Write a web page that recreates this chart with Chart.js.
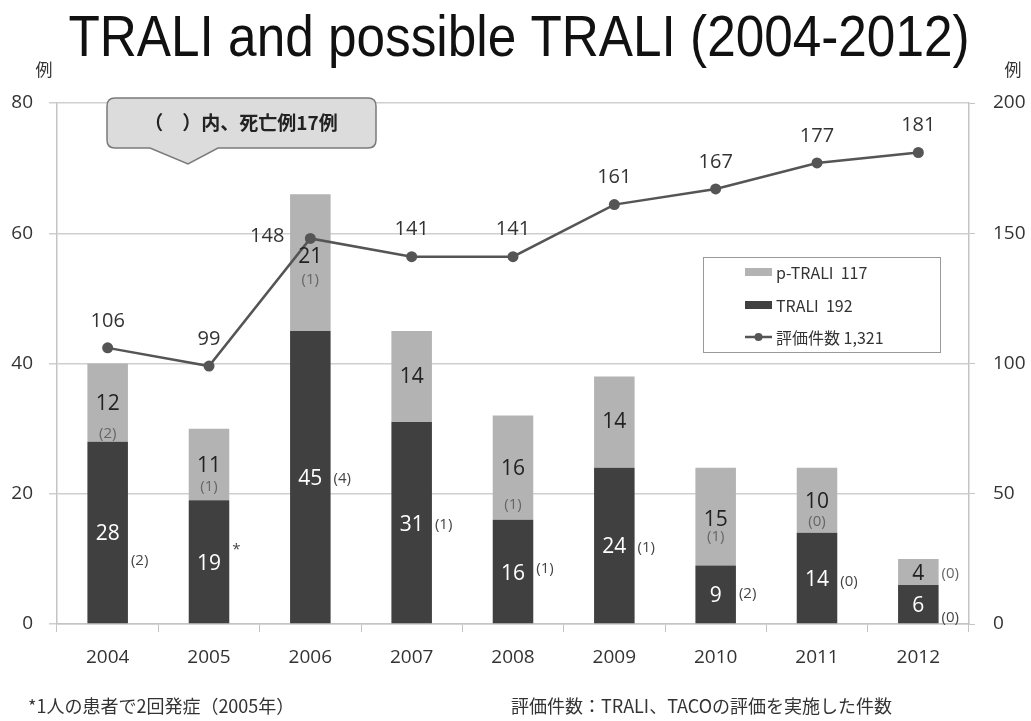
<!DOCTYPE html>
<html>
<head>
<meta charset="utf-8">
<script src="https://cdn.jsdelivr.net/npm/chart.js@4.4.1/dist/chart.umd.min.js"></script>
<style>
  html, body { margin: 0; padding: 0; background: #fff; }
  #wrap { width: 1031px; height: 721px; }
</style>
</head>
<body>
<div id="wrap"><canvas id="myChart" width="1031" height="721"></canvas></div>
<script>
// data
let years = ["2004", "2005", "2006", "2007", "2008", "2009", "2010", "2011", "2012"];
let traliCases = [28, 19, 45, 31, 16, 24, 9, 14, 6];
let pTraliCases = [12, 11, 21, 14, 16, 14, 15, 10, 4];
let evalCounts = [106, 99, 148, 141, 141, 161, 167, 177, 181];
// deaths shown in brackets
let traliDeaths = ["(2)", "*", "(4)", "(1)", "(1)", "(1)", "(2)", "(0)", "(0)"];
let pTraliDeaths = ["(2)", "(1)", "(1)", "", "(1)", "", "(1)", "(0)", "(0)"];
let legendLabels = ["p-TRALI  117", "TRALI  192", "評価件数 1,321"];

let darkGray = "#404040";
let lightGray = "#b3b3b3";
let lineGray = "#555555";
let numFont = "'Open Sans', 'Noto Sans', sans-serif";
let jpFont = "'Noto Sans CJK JP', sans-serif";

// label nudges (px) so the texts sit where they do in the original
let traliDeathDy = [26, -14, 0, 0, -5, 0, -3, 2, 12];
let pNumDy = [1, 2, -6, 0, 1, 0, 3, 2, 2];
let pDeathDy = [31, 22, 17, 0, 37, 0, 20, 21, 2];

let labelPlugin = {
  id: "labels",
  afterDatasetsDraw(chart) {
    let ctx = chart.ctx;
    let metaT = chart.getDatasetMeta(0);
    let metaP = chart.getDatasetMeta(1);
    let metaL = chart.getDatasetMeta(2);
    ctx.save();
    ctx.textBaseline = "middle";

    for (let i = 0; i < years.length; i++) {
      let bt = metaT.data[i];
      let bp = metaP.data[i];
      let half = bt.width / 2;

      // TRALI value, white inside the dark bar
      let cy = (bt.y + bt.base) / 2 + 2;
      ctx.font = "21px " + numFont;
      ctx.fillStyle = "#ffffff";
      ctx.textAlign = "center";
      ctx.fillText(traliCases[i], bt.x, cy);

      // TRALI deaths to the right
      ctx.font = "15px " + numFont;
      ctx.fillStyle = "#444";
      ctx.textAlign = "left";
      ctx.fillText(traliDeaths[i], bt.x + half + 3, cy + traliDeathDy[i]);

      // p-TRALI value in the light segment
      let py = (bp.y + bp.base) / 2;
      let last = i === years.length - 1;
      ctx.font = "21px " + numFont;
      ctx.fillStyle = "#222";
      ctx.textAlign = "center";
      ctx.fillText(pTraliCases[i], bp.x, py + pNumDy[i]);

      if (pTraliDeaths[i] !== "") {
        ctx.font = "15px " + numFont;
        ctx.fillStyle = "#666";
        if (last) {
          ctx.textAlign = "left";
          ctx.fillText(pTraliDeaths[i], bp.x + half + 3, py + pDeathDy[i]);
        } else {
          ctx.textAlign = "center";
          ctx.fillText(pTraliDeaths[i], bp.x, py + pDeathDy[i]);
        }
      }

      // line value labels
      let pt = metaL.data[i];
      ctx.font = "20px " + numFont;
      ctx.fillStyle = "#333";
      if (i === 2) {
        ctx.textAlign = "right";
        ctx.fillText(evalCounts[i], pt.x - 26, pt.y - 2);
      } else {
        ctx.textAlign = "center";
        ctx.fillText(evalCounts[i], pt.x, pt.y - 27);
      }
    }
    ctx.restore();
  },
  afterDraw(chart) {
    let ctx = chart.ctx;
    ctx.save();

    // title, condensed like the original
    ctx.save();
    ctx.translate(519, 56);
    ctx.scale(0.9, 1);
    ctx.fillStyle = "#111";
    ctx.textAlign = "center";
    ctx.textBaseline = "alphabetic";
    ctx.font = "57px 'Liberation Sans', sans-serif";
    ctx.fillText("TRALI and possible TRALI (2004-2012)", 0, 0);
    ctx.restore();

    // unit labels
    ctx.textAlign = "center";
    ctx.font = "17px " + jpFont;
    ctx.fillStyle = "#333";
    ctx.fillText("例", 44, 76);
    ctx.fillText("例", 1013, 76);

    // callout
    let cx0 = 107, cy0 = 98, cw = 269, ch = 50, r = 8;
    ctx.beginPath();
    ctx.moveTo(cx0 + r, cy0);
    ctx.lineTo(cx0 + cw - r, cy0);
    ctx.quadraticCurveTo(cx0 + cw, cy0, cx0 + cw, cy0 + r);
    ctx.lineTo(cx0 + cw, cy0 + ch - r);
    ctx.quadraticCurveTo(cx0 + cw, cy0 + ch, cx0 + cw - r, cy0 + ch);
    ctx.lineTo(218, cy0 + ch);
    ctx.lineTo(188, cy0 + ch + 16);
    ctx.lineTo(150, cy0 + ch);
    ctx.lineTo(cx0 + r, cy0 + ch);
    ctx.quadraticCurveTo(cx0, cy0 + ch, cx0, cy0 + ch - r);
    ctx.lineTo(cx0, cy0 + r);
    ctx.quadraticCurveTo(cx0, cy0, cx0 + r, cy0);
    ctx.closePath();
    ctx.fillStyle = "#dcdcdc";
    ctx.fill();
    ctx.strokeStyle = "#7a7a7a";
    ctx.lineWidth = 1.5;
    ctx.stroke();
    ctx.fillStyle = "#222";
    ctx.font = "bold 19px " + jpFont;
    ctx.textBaseline = "middle";
    ctx.fillText("（　）内、死亡例17例", 241, 123);

    // legend box
    ctx.fillStyle = "#ffffff";
    ctx.fillRect(703, 257, 237, 95);
    ctx.strokeStyle = "#999";
    ctx.lineWidth = 1;
    ctx.strokeRect(703.5, 257.5, 237, 95);
    ctx.textAlign = "left";
    ctx.font = "16px " + jpFont;
    let rows = [272, 305, 337];
    ctx.fillStyle = lightGray;
    ctx.fillRect(745, rows[0] - 4, 27, 8);
    ctx.fillStyle = darkGray;
    ctx.fillRect(745, rows[1] - 4, 27, 8);
    ctx.strokeStyle = lineGray;
    ctx.lineWidth = 2.5;
    ctx.beginPath();
    ctx.moveTo(745, rows[2]);
    ctx.lineTo(772, rows[2]);
    ctx.stroke();
    ctx.fillStyle = lineGray;
    ctx.beginPath();
    ctx.arc(758.5, rows[2], 4, 0, Math.PI * 2);
    ctx.fill();
    ctx.fillStyle = "#333";
    for (let k = 0; k < legendLabels.length; k++) {
      ctx.fillText(legendLabels[k], 776, rows[k] + 1);
    }

    // notes under the chart
    ctx.font = "18px " + jpFont;
    ctx.fillStyle = "#333";
    ctx.fillText("*1人の患者で2回発症（2005年）", 28, 706);
    ctx.fillText("評価件数：TRALI、TACOの評価を実施した件数", 511, 706);
    ctx.restore();
  }
};

new Chart(document.getElementById("myChart"), {
  type: "bar",
  data: {
    labels: years,
    datasets: [
      {
        label: "TRALI",
        data: traliCases,
        backgroundColor: darkGray,
        yAxisID: "y",
        order: 1
      },
      {
        label: "p-TRALI",
        data: pTraliCases,
        backgroundColor: lightGray,
        yAxisID: "y",
        order: 1
      },
      {
        type: "line",
        label: "評価件数",
        data: evalCounts,
        borderColor: lineGray,
        backgroundColor: lineGray,
        borderWidth: 2.5,
        pointRadius: 5.5,
        pointBackgroundColor: lineGray,
        pointBorderWidth: 0,
        tension: 0,
        yAxisID: "y2",
        order: 0
      }
    ]
  },
  options: {
    responsive: false,
    animation: false,
    categoryPercentage: 1,
    barPercentage: 0.4,
    layout: { padding: { top: 103, left: 0, right: 0, bottom: 0 } },
    plugins: {
      legend: { display: false },
      title: { display: false },
      tooltip: { enabled: false }
    },
    scales: {
      x: {
        stacked: true,
        offset: true,
        grid: { display: true, drawOnChartArea: false, offset: true, tickLength: 8, color: "#c4c4c4" },
        border: { color: "#c4c4c4", width: 1.5 },
        ticks: { color: "#333", font: { size: 19, family: numFont }, padding: 14 },
        afterFit(scale) { scale.height = 97; }
      },
      y: {
        stacked: true,
        position: "left",
        min: 0,
        max: 80,
        ticks: { stepSize: 20, color: "#333", font: { size: 19, family: numFont }, padding: 16 },
        grid: { color: "#cfcfcf", lineWidth: 1.5, tickLength: 8 },
        border: { color: "#c4c4c4", width: 1.5 },
        afterFit(scale) { scale.width = 57; }
      },
      y2: {
        position: "right",
        min: 0,
        max: 200,
        ticks: { stepSize: 50, color: "#333", font: { size: 19, family: numFont }, padding: 18 },
        grid: { drawOnChartArea: false, tickLength: 6, color: "#c4c4c4" },
        border: { color: "#c4c4c4", width: 1.5 },
        afterFit(scale) { scale.width = 62; }
      }
    }
  },
  plugins: [labelPlugin]
});
</script>
</body>
</html>
